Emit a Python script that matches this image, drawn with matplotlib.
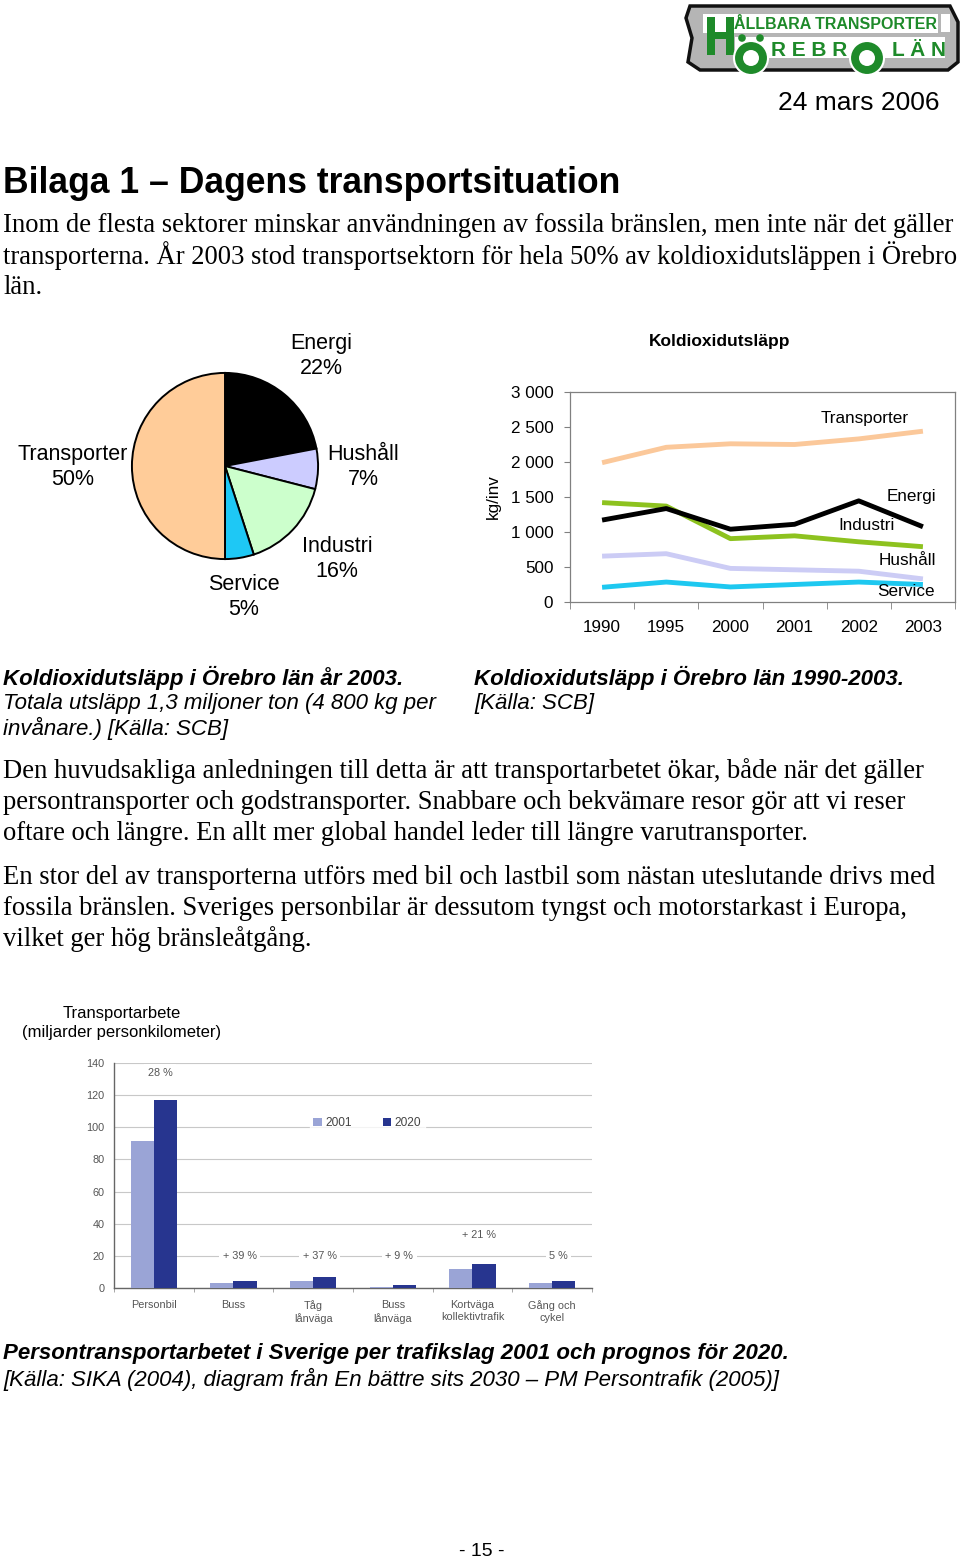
import numpy as np
import matplotlib.pyplot as plt
from matplotlib.patches import Polygon, Rectangle, Circle

plt.rcParams['font.family'] = ['Liberation Sans', 'DejaVu Sans']

# pie: share of CO2 emissions 2003
pie_names = ['Energi', 'Hushåll', 'Industri', 'Service', 'Transporter']
pie_shares = [22, 7, 16, 5, 50]
pie_colors = ['#000000', '#CCCCFF', '#CCFFCC', '#1EC8F5', '#FFCC99']

# line chart: kg/inv per sector
years = ['1990', '1995', '2000', '2001', '2002', '2003']
transporter = [1990, 2210, 2260, 2250, 2330, 2440]
energi = [1170, 1335, 1040, 1110, 1445, 1075]
industri = [1420, 1370, 905, 945, 860, 790]
hushall = [655, 690, 480, 460, 440, 330]
service = [210, 285, 215, 250, 285, 250]

# bar chart: transport work (billion person-km)
modes = ['Personbil', 'Buss', 'Tåg\nlånväga', 'Buss\nlånväga', 'Kortväga\nkollektivtrafik', 'Gång och\ncykel']
work_2001 = [91.7, 3.1, 4.2, 0.8, 12.1, 3.1]
work_2020 = [116.7, 4.6, 6.9, 1.7, 15.2, 4.2]
change = ['28 %', '+ 39 %', '+ 37 %', '+ 9 %', '+ 21 %', '5 %']

W, H = 960, 1561
fig = plt.figure(figsize=(W / 100, H / 100), dpi=100)

def px_axes(l, t, r, b):
    return fig.add_axes([l / W, 1 - b / H, (r - l) / W, (b - t) / H])

# page overlay in pixel coordinates
pg = fig.add_axes([0, 0, 1, 1])
pg.set_xlim(0, W)
pg.set_ylim(H, 0)
pg.axis('off')

serif = ['Liberation Serif', 'DejaVu Serif']
body_fs = 19.2
cap_fs = 16

# logo
body = Polygon([(690, 6), (950, 6), (958, 22), (958, 62), (948, 70), (700, 70), (688, 62), (692, 38), (686, 18)],
               closed=True, fc='#b5b5b5', ec='#111111', lw=2.5)
pg.add_patch(body)
pg.add_patch(Rectangle((703, 14), 235, 19, fc='white', ec='none'))
pg.add_patch(Rectangle((735, 37), 210, 21, fc='white', ec='none'))
pg.add_patch(Rectangle((941, 14), 9, 18, fc='white', ec='none'))
green = '#1e8a2a'
# big H
pg.add_patch(Rectangle((707, 17), 8, 38, fc=green, ec='none'))
pg.add_patch(Rectangle((726, 17), 8, 38, fc=green, ec='none'))
pg.add_patch(Rectangle((715, 32), 11, 7, fc=green, ec='none'))
pg.text(835, 24, 'ÅLLBARA TRANSPORTER', color=green, fontsize=11.5, fontweight='bold',
        ha='center', va='center')
pg.text(809, 50, 'R E B R', color=green, fontsize=15, fontweight='bold', ha='center', va='center')
pg.text(919, 50, 'L Ä N', color=green, fontsize=15, fontweight='bold', ha='center', va='center')
for cx in (751, 867):
    pg.add_patch(Circle((cx, 58), 17, fc=green, ec='white', lw=1.5))
    pg.add_patch(Circle((cx, 58), 8, fc='white', ec='none'))
pg.add_patch(Circle((742, 38), 3.8, fc=green, ec='none'))
pg.add_patch(Circle((760, 38), 3.8, fc=green, ec='none'))

pg.text(940, 103, '24 mars 2006', fontsize=19, ha='right', va='center')
pg.text(3, 183, 'Bilaga 1 – Dagens transportsituation', fontsize=25.6, fontweight='bold', va='center')

para1 = ['Inom de flesta sektorer minskar användningen av fossila bränslen, men inte när det gäller',
         'transporterna. År 2003 stod transportsektorn för hela 50% av koldioxidutsläppen i Örebro',
         'län.']
for i, s in enumerate(para1):
    pg.text(3, 225 + 31 * i, s, fontsize=body_fs, family=serif, va='center')

# pie chart
pax = px_axes(131, 372, 319, 560)
pax.pie(pie_shares, colors=pie_colors, startangle=90, counterclock=False,
        wedgeprops=dict(edgecolor='black', linewidth=1.4))
pax.set_xlim(-1.01, 1.01)
pax.set_ylim(-1.01, 1.01)
pie_lab_pos = [(321, 356), (363, 467), (337, 559), (244, 597), (73, 467)]
for name, pct, (x, y) in zip(pie_names, pie_shares, pie_lab_pos):
    pg.text(x, y, f'{name}\n{pct}%', fontsize=15.5, ha='center', va='center', linespacing=1.3)

# line chart
lfs = 12.3
lax = px_axes(570, 392, 955, 602)
xs = np.arange(len(years))
series = [(transporter, '#FBC89A', 'Transporter', 4.1, 2615),
          (industri, '#8DC21F', 'Industri', 4.12, 1086),
          (hushall, '#CCCCF5', 'Hushåll', 4.76, 586),
          (service, '#1EC8F0', 'Service', 4.73, 143),
          (energi, '#000000', 'Energi', 4.82, 1500)]
for vals, col, name, tx, ty in series:
    lax.plot(xs, vals, color=col, lw=3.5, solid_capstyle='butt')
    lax.text(tx, ty, name, fontsize=lfs, ha='center', va='center')
lax.set_xlim(-0.5, 5.5)
lax.set_ylim(0, 3000)
lax.set_yticks(range(0, 3001, 500))
lax.set_yticklabels([f'{v:,}'.replace(',', ' ') for v in range(0, 3001, 500)], fontsize=lfs)
lax.set_xticks(xs)
lax.set_xticklabels(years, fontsize=lfs)
lax.set_xticks(np.arange(-0.5, 5.6, 1), minor=True)
lax.tick_params(axis='x', which='major', length=0, pad=13)
lax.tick_params(axis='x', which='minor', length=5, color='#808080')
lax.tick_params(axis='y', length=4, color='#808080', pad=8)
for sp in lax.spines.values():
    sp.set_color('#808080')
    sp.set_linewidth(0.9)
lax.set_ylabel('kg/inv', fontsize=lfs, labelpad=7)
pg.text(720, 341, 'Koldioxidutsläpp', fontsize=12.5, fontweight='bold', ha='center', va='center')

# captions
pg.text(3, 678, 'Koldioxidutsläpp i Örebro län år 2003.', fontsize=cap_fs, fontweight='bold', style='italic', va='center')
pg.text(3, 703, 'Totala utsläpp 1,3 miljoner ton (4 800 kg per', fontsize=cap_fs, style='italic', va='center')
pg.text(3, 728, 'invånare.) [Källa: SCB]', fontsize=cap_fs, style='italic', va='center')
pg.text(474, 678, 'Koldioxidutsläpp i Örebro län 1990-2003.', fontsize=cap_fs, fontweight='bold', style='italic', va='center')
pg.text(474, 703, '[Källa: SCB]', fontsize=cap_fs, style='italic', va='center')

para2 = ['Den huvudsakliga anledningen till detta är att transportarbetet ökar, både när det gäller',
         'persontransporter och godstransporter. Snabbare och bekvämare resor gör att vi reser',
         'oftare och längre. En allt mer global handel leder till längre varutransporter.']
para3 = ['En stor del av transporterna utförs med bil och lastbil som nästan uteslutande drivs med',
         'fossila bränslen. Sveriges personbilar är dessutom tyngst och motorstarkast i Europa,',
         'vilket ger hög bränsleåtgång.']
for i, s in enumerate(para2):
    pg.text(3, 771 + 31 * i, s, fontsize=body_fs, family=serif, va='center')
for i, s in enumerate(para3):
    pg.text(3, 877 + 31 * i, s, fontsize=body_fs, family=serif, va='center')

# bar chart
bfs = 7.8
bax = px_axes(114, 1063, 592, 1288)
bx = np.arange(len(modes))
bw = 0.29
light, dark = '#9aa4d6', '#27358f'
bax.bar(bx - bw / 2, work_2001, bw, color=light, label='2001', zorder=3)
bax.bar(bx + bw / 2, work_2020, bw, color=dark, label='2020', zorder=3)
bax.set_xlim(-0.5, len(modes) - 0.5)
bax.set_ylim(0, 140)
bax.set_yticks(range(0, 141, 20))
bax.yaxis.grid(True, color='#c8c8c8', lw=0.8, zorder=0)
bax.set_axisbelow(True)
bax.set_xticks(bx)
bax.set_xticklabels(modes, fontsize=bfs, color='#555555', linespacing=1.25)
bax.set_xticks(np.arange(-0.5, len(modes), 1), minor=True)
bax.tick_params(axis='x', which='major', length=0, pad=9)
bax.tick_params(axis='x', which='minor', length=3, color='#999999')
bax.tick_params(axis='y', length=0, labelsize=bfs, labelcolor='#555555', pad=7)
for s in ('top', 'right'):
    bax.spines[s].set_visible(False)
for s in ('left', 'bottom'):
    bax.spines[s].set_color('#666666')
    bax.spines[s].set_linewidth(1.0)
ann_y = [134, 20, 20, 20, 33, 20]
for i, (lab, y) in enumerate(zip(change, ann_y)):
    bax.text(i + 0.08, y, lab, fontsize=bfs, color='#555555', ha='center', va='center', zorder=4,
             bbox=dict(fc='white', ec='none', pad=2.5))
leg = bax.legend(loc='center', bbox_to_anchor=(0.53, 0.733), ncol=2, frameon=True, fontsize=8.6,
                 handlelength=0.7, handleheight=0.7, handletextpad=0.3, columnspacing=2.6,
                 borderpad=0.3, fancybox=False)
leg.get_frame().set_facecolor('white')
leg.get_frame().set_edgecolor('white')
for t in leg.get_texts():
    t.set_color('#444444')
pg.text(122, 1013, 'Transportarbete', fontsize=12, ha='center', va='center')
pg.text(122, 1033, '(miljarder personkilometer)', fontsize=12, ha='center', va='center')

pg.text(3, 1354, 'Persontransportarbetet i Sverige per trafikslag 2001 och prognos för 2020.',
        fontsize=cap_fs, fontweight='bold', style='italic', va='center')
pg.text(3, 1379, '[Källa: SIKA (2004), diagram från En bättre sits 2030 – PM Persontrafik (2005)]',
        fontsize=cap_fs, style='italic', va='center')
pg.text(482, 1552, '- 15 -', fontsize=14, ha='center', va='center')

fig.savefig('out.png', dpi=100)
